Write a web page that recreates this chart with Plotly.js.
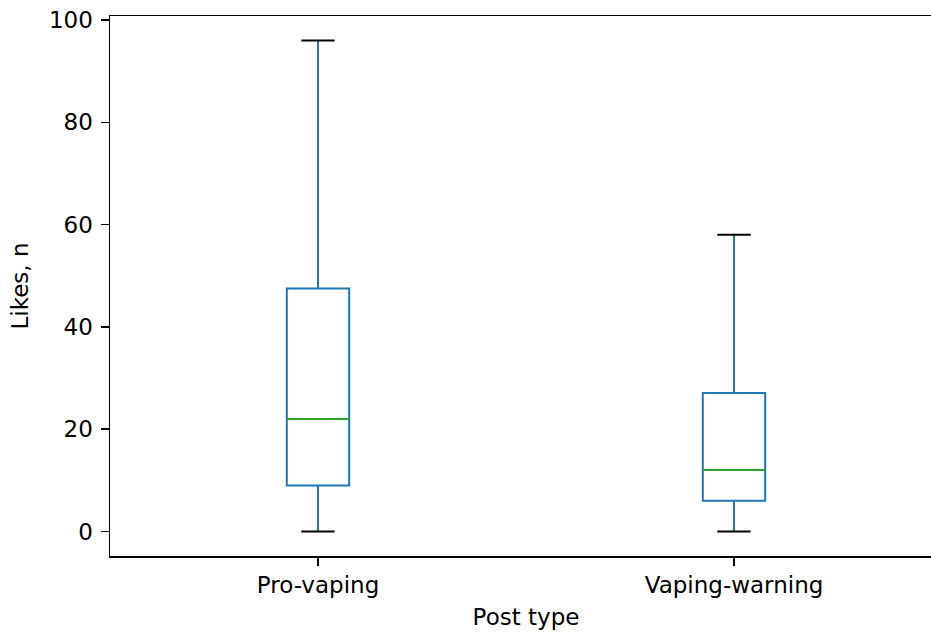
<!DOCTYPE html>
<html>
<head>
<meta charset="utf-8">
<script src="https://cdn.plot.ly/plotly-3.0.1.min.js"></script>
<style>
html, body { margin: 0; padding: 0; overflow: hidden; background: #fff; width: 931px; height: 634px; }
#chart { width: 942px; height: 634px; }
</style>
</head>
<body>
<div id="chart"></div>
<script>
var categories = ["Pro-vaping", "Vaping-warning"];
var positions = [1, 2];
var lowerWhisker = [0, 0];
var q1Values = [9, 6];
var medianValues = [22, 12];
var q3Values = [47.5, 27.1];
var upperWhisker = [96, 58];
var yTicks = [0, 20, 40, 60, 80, 100];

var boxWidth = 0.15;
var capHalf = 0.04;

var medX = [], medY = [], capX = [], capY = [];
positions.forEach(function (p, i) {
  medX.push(p - boxWidth / 2, p + boxWidth / 2, null);
  medY.push(medianValues[i], medianValues[i], null);
  [lowerWhisker[i], upperWhisker[i]].forEach(function (v) {
    capX.push(p - capHalf, p + capHalf, null);
    capY.push(v, v, null);
  });
});

var font = "DejaVu Sans, sans-serif";
var fs = 23;

var data = [
  {
    type: "box",
    x: positions,
    q1: q1Values,
    median: medianValues,
    q3: q3Values,
    lowerfence: lowerWhisker,
    upperfence: upperWhisker,
    width: boxWidth,
    whiskerwidth: 0,
    boxpoints: false,
    line: { color: "#1f77b4", width: 2 },
    fillcolor: "rgba(0,0,0,0)",
    hoverinfo: "skip",
    showlegend: false
  },
  {
    type: "scatter",
    mode: "lines",
    x: medX,
    y: medY,
    line: { color: "#2ca02c", width: 2 },
    hoverinfo: "skip",
    showlegend: false
  },
  {
    type: "scatter",
    mode: "lines",
    x: capX,
    y: capY,
    line: { color: "#000000", width: 2 },
    hoverinfo: "skip",
    showlegend: false
  }
];

var layout = {
  width: 942,
  height: 634,
  margin: { l: 110, r: 0, t: 16, b: 78, pad: 0 },
  paper_bgcolor: "#ffffff",
  plot_bgcolor: "#ffffff",
  font: { family: font, size: fs, color: "#000000" },
  showlegend: false,
  xaxis: {
    range: [0.5, 2.5],
    tickvals: positions,
    ticktext: categories,
    ticks: "outside",
    ticklen: 8,
    tickwidth: 1.5,
    tickcolor: "#000",
    showline: true,
    linecolor: "#000",
    linewidth: 1.5,
    mirror: true,
    showgrid: false,
    zeroline: false,
    tickfont: { family: font, size: fs, color: "#000" },
    title: { text: "Post type", font: { family: font, size: fs, color: "#000" }, standoff: 12 }
  },
  yaxis: {
    range: [-4.8, 100.8],
    tickvals: yTicks,
    ticktext: yTicks.map(String),
    ticks: "outside",
    ticklen: 8,
    tickwidth: 1.5,
    tickcolor: "#000",
    ticklabelstandoff: 3,
    showline: true,
    linecolor: "#000",
    linewidth: 1.5,
    mirror: true,
    showgrid: false,
    zeroline: false,
    tickfont: { family: font, size: fs, color: "#000" },
    title: { text: "Likes, n", font: { family: font, size: fs, color: "#000" }, standoff: 14 }
  }
};

Plotly.newPlot("chart", data, layout, { displayModeBar: false, staticPlot: true });
</script>
</body>
</html>
